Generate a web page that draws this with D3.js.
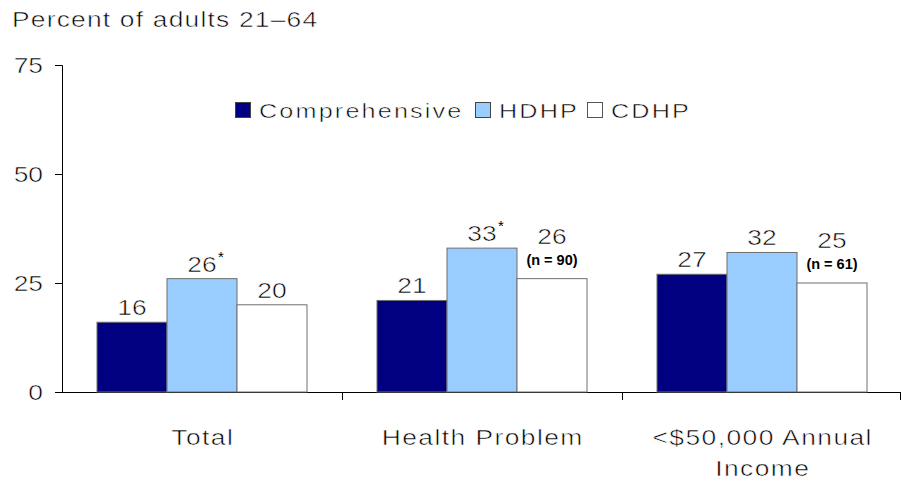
<!DOCTYPE html>
<html><head><meta charset="utf-8">
<script src="https://cdn.jsdelivr.net/npm/d3@7"></script>
<style>
body{margin:0;background:#fff;}
text{font-family:"Liberation Sans",Arial,sans-serif;fill:#000;}
text.w{stroke:#fff;stroke-width:0.55px;paint-order:fill;}
</style></head>
<body><svg id="c" width="901" height="487"></svg>
<script>
const categories = ["Total", "Health Problem", "<$50,000 Annual\nIncome"];
const series = ["Comprehensive", "HDHP", "CDHP"];
const comprehensive = [16, 21, 27];
const hdhp = [26, 33, 32];
const cdhp = [20, 26, 25];
const stars = [[false, true, false], [false, true, false], [false, false, false]]; // [cat][series]
const notes = [[null, null, null], [null, null, "(n = 90)"], [null, null, "(n = 61)"]];
const yTicks = [0, 25, 50, 75];
const colors = ["#000080", "#99CCFF", "#FFFFFF"];
const values = [comprehensive, hdhp, cdhp];

const svg = d3.select("#c");
const SX = 1.2;
const x0 = d3.scaleBand().domain(categories).range([62, 902]).paddingInner(0).paddingOuter(0);
const x1 = d3.scaleBand().domain(series).range([0, x0.bandwidth()]).paddingInner(0).paddingOuter(0.5);
const y = d3.scaleLinear().domain([0, 75]).range([392, 65]);

function wideText(x, yy, str, size, ls, anchor) {
  const g = svg.append("g").attr("transform", `translate(${x},${yy}) scale(${SX},1)`);
  const dx = anchor === "middle" ? ls / 2 : (anchor === "end" ? ls : 0);
  return g.append("text").attr("class", "w").attr("x", dx).attr("y", 0).attr("text-anchor", anchor || "start")
    .style("font-size", size + "px").style("letter-spacing", ls + "px").text(str);
}

// title
wideText(12, 27, "Percent of adults 21–64", 22, 1);

// y axis
const ya = svg.append("g").attr("transform", "translate(62,0)")
  .call(d3.axisLeft(y).tickValues(yTicks).tickSize(7).tickPadding(10).tickFormat(""));
ya.select(".domain").attr("stroke", "#000").attr("d", "M-7,65.5H0.5V392.5");
ya.selectAll(".tick line").attr("stroke", "#000");
yTicks.forEach(t => wideText(43, y(t) + 8, t, 22, 0, "end"));

// x axis
const xa = svg.append("g").attr("transform", "translate(0,392)")
  .call(d3.axisBottom(x0).tickSize(0).tickFormat(""));
xa.select(".domain").attr("stroke", "#000").attr("d", "M55,0.5H901");
categories.forEach((c, i) => {
  if (i > 0) xa.append("line").attr("x1", x0(c) + 0.5).attr("x2", x0(c) + 0.5).attr("y1", 0).attr("y2", 8).attr("stroke", "#000");
});
xa.append("line").attr("x1", 900.5).attr("x2", 900.5).attr("y1", 0).attr("y2", 8).attr("stroke", "#000");

// category labels
categories.forEach(c => {
  c.split("\n").forEach((l, k) => {
    wideText(x0(c) + x0.bandwidth() / 2, 445 + k * 31, l, 22, 1.2, "middle");
  });
});

// bars
categories.forEach((c, i) => {
  series.forEach((s, j) => {
    const v = values[j][i];
    const bx = x0(c) + x1(s);
    svg.append("rect").attr("x", bx).attr("y", y(v)).attr("width", x1.bandwidth()).attr("height", y(0) - y(v))
      .attr("fill", colors[j]).attr("stroke", "#6e6e6e").attr("stroke-width", 1);
  });
});

// value labels
categories.forEach((c, i) => {
  series.forEach((s, j) => {
    const v = values[j][i];
    const cx = x0(c) + x1(s) + x1.bandwidth() / 2;
    const note = notes[i][j];
    const base = note ? y(v) - 35 : y(v) - 7;
    wideText(cx, base, v, 22, 0, "middle");
    if (stars[i][j]) {
      svg.append("text").attr("x", cx + 16).attr("y", base - 10).style("font-size", "15px").text("*");
    }
    if (note) {
      svg.append("text").attr("x", cx).attr("y", y(v) - 14).attr("text-anchor", "middle")
        .style("font-size", "14.5px").style("font-weight", "bold").text(note);
    }
  });
});

// legend
const legX = [235, 475, 587];
series.forEach((s, j) => {
  svg.append("rect").attr("x", legX[j] + 0.5).attr("y", 102.5).attr("width", 15).attr("height", 15)
    .attr("fill", colors[j]).attr("stroke", j === 2 ? "#555" : "#444").attr("stroke-width", 1);
  wideText(legX[j] + 24, 118, s, 21, 1.8);
});
</script></body></html>
